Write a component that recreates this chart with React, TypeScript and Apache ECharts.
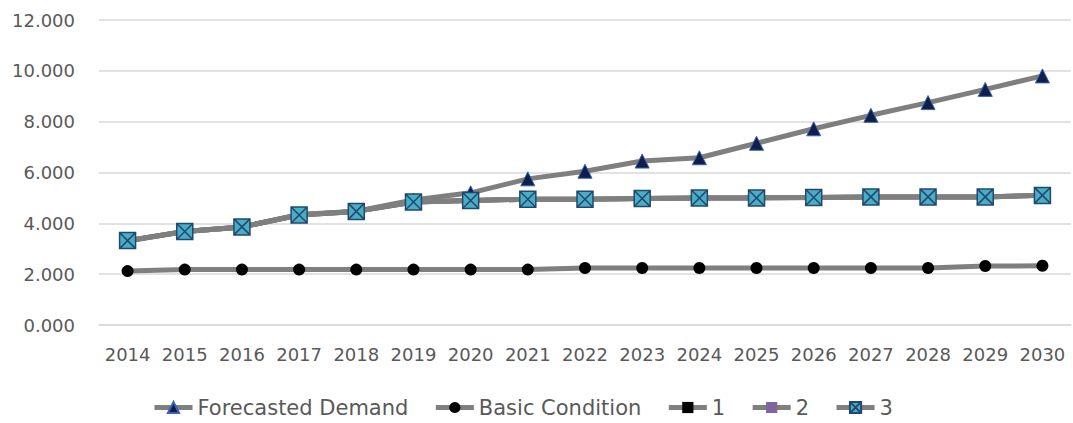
import React, { useEffect, useRef } from "react";
import * as echarts from "echarts";

const years = ["2014","2015","2016","2017","2018","2019","2020","2021","2022","2023","2024","2025","2026","2027","2028","2029","2030"];
const forecastedDemand = [3.30, 3.68, 3.85, 4.35, 4.48, 4.92, 5.20, 5.75, 6.05, 6.45, 6.58, 7.15, 7.72, 8.25, 8.75, 9.27, 9.80];
const basicCondition = [2.12, 2.18, 2.18, 2.18, 2.18, 2.18, 2.18, 2.18, 2.24, 2.24, 2.24, 2.24, 2.24, 2.24, 2.24, 2.32, 2.33];
const scenario1 = [3.32, 3.68, 3.86, 4.33, 4.47, 4.84, 4.90, 4.95, 4.95, 4.98, 5.00, 5.00, 5.02, 5.04, 5.04, 5.04, 5.10];
const scenario2 = [3.32, 3.68, 3.86, 4.33, 4.47, 4.84, 4.90, 4.95, 4.95, 4.98, 5.00, 5.00, 5.02, 5.04, 5.04, 5.04, 5.10];
const scenario3 = [3.32, 3.68, 3.86, 4.33, 4.47, 4.84, 4.90, 4.95, 4.95, 4.98, 5.00, 5.00, 5.02, 5.04, 5.04, 5.04, 5.10];
const yTicks = { min: 0, max: 12, interval: 2 };

const FONT = "'DejaVu Sans', sans-serif";
const LINE_GRAY = "#7f7f7f";
const TEXT_GRAY = "#595959";

export default function App() {
  const ref = useRef<HTMLDivElement>(null);
  useEffect(() => {
    if (!ref.current) return;
    const chart = echarts.init(ref.current, null, { renderer: "svg" });
    const lineStyle = { color: LINE_GRAY, width: 5 };
    chart.setOption({
      animation: false,
      backgroundColor: "#ffffff",
      grid: { left: 99, right: 2, top: 20, bottom: 98 },
      legend: {
        bottom: 0,
        left: 147,
        itemWidth: 38,
        itemHeight: 14,
        itemGap: 25,
        lineStyle: { color: LINE_GRAY, width: 5 },
        textStyle: { fontFamily: FONT, fontSize: 21, color: TEXT_GRAY },
        data: ["Forecasted Demand", "Basic Condition", "1", "2", "3"],
      },
      xAxis: {
        type: "category",
        data: years,
        axisLine: { lineStyle: { color: "#d9d9d9", width: 1.5 } },
        axisTick: { show: false },
        axisLabel: { fontFamily: FONT, fontSize: 18, color: TEXT_GRAY, margin: 20, interval: 0 },
      },
      yAxis: {
        type: "value",
        min: yTicks.min,
        max: yTicks.max,
        interval: yTicks.interval,
        axisLine: { show: false },
        axisTick: { show: false },
        splitLine: { lineStyle: { color: "#d9d9d9", width: 1.5 } },
        axisLabel: {
          fontFamily: FONT,
          fontSize: 18,
          color: TEXT_GRAY,
          margin: 24,
          formatter: (v: number) => v.toFixed(3),
        },
      },
      series: [
        {
          name: "Forecasted Demand",
          type: "line",
          data: forecastedDemand,
          symbol: "triangle",
          symbolSize: 14,
          lineStyle,
          itemStyle: { color: "#0f1f4a", borderColor: "#3a63b0", borderWidth: 1 },
        },
        {
          name: "Basic Condition",
          type: "line",
          data: basicCondition,
          symbol: "circle",
          symbolSize: 12,
          lineStyle,
          itemStyle: { color: "#000000" },
        },
        {
          name: "1",
          type: "line",
          data: scenario1,
          symbol: "rect",
          symbolSize: 11,
          lineStyle,
          itemStyle: { color: "#000000" },
        },
        {
          name: "2",
          type: "line",
          data: scenario2,
          symbol: "rect",
          symbolSize: [14, 3],
          lineStyle,
          itemStyle: { color: "#8064a2" },
        },
        {
          name: "3",
          type: "line",
          data: scenario3,
          symbol: "path://M0,0L10,0L10,10L0,10Z M0,0L10,10 M10,0L0,10",
          symbolSize: 16,
          lineStyle,
          itemStyle: { color: "#4bacc6", borderColor: "#1f4a6e", borderWidth: 1.5 },
        },
      ],
    });
    return () => chart.dispose();
  }, []);
  return <div ref={ref} style={{ width: 1073, height: 423, position: "absolute", left: 0, top: 0 }} />;
}
